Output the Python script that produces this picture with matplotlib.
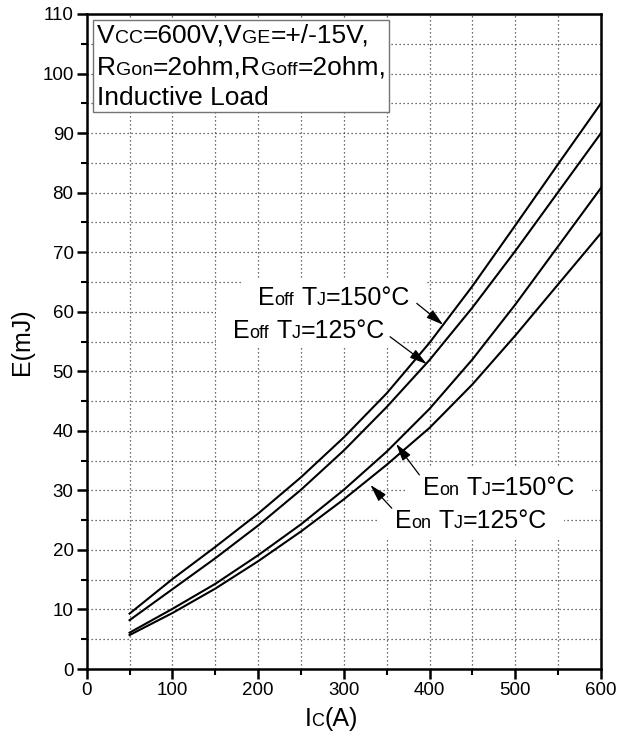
import matplotlib
matplotlib.use('Agg')
import matplotlib.pyplot as plt
from matplotlib.patches import Rectangle

# collector current (A) and switching energies (mJ)
ic = [50, 100, 150, 200, 250, 300, 350, 400, 450, 500, 550, 600]
eoff_150 = [9.3, 15.1, 20.5, 26.1, 32.2, 38.9, 46.3, 54.8, 64.3, 74.5, 84.8, 95.0]
eoff_125 = [8.2, 13.4, 18.6, 24.1, 30.1, 36.7, 44.0, 51.9, 60.7, 70.2, 80.1, 90.0]
eon_150 = [6.1, 10.1, 14.3, 19.1, 24.3, 30.1, 36.5, 43.7, 52.0, 61.2, 71.0, 80.8]
eon_125 = [5.7, 9.4, 13.5, 18.1, 23.1, 28.5, 34.3, 40.5, 47.8, 56.0, 64.6, 73.2]

W, H, DPI = 619, 740, 100
BIG, SMALL = 18, 13

plt.rcParams['font.family'] = ['Liberation Sans', 'DejaVu Sans']

fig = plt.figure(figsize=(W / DPI, H / DPI), dpi=DPI)
ax = fig.add_axes([86.7 / W, 71 / H, 514.3 / W, 655 / H])
renderer = fig.canvas.get_renderer()

for e in [eoff_150, eoff_125, eon_150, eon_125]:
    ax.plot(ic, e, color='black', lw=1.5, zorder=3)

ax.set_xlim(0, 600)
ax.set_ylim(0, 110)
ax.set_xticks(range(0, 601, 100))
ax.set_xticks(range(0, 601, 50), minor=True)
ax.set_yticks(range(0, 111, 10))
ax.set_yticks(range(0, 111, 5), minor=True)
ax.tick_params(which='major', direction='out', length=7.5, width=1.8, labelsize=13.5, pad=2)
ax.tick_params(which='minor', direction='out', length=4, width=1.5)
ax.grid(which='both', color='0.25', lw=0.9, ls=(0, (1, 2.2)))
ax.set_axisbelow(True)
for s in ax.spines.values():
    s.set_linewidth(1.8)

ax.set_ylabel('E(mJ)', fontsize=BIG, va='center')
ax.yaxis.set_label_coords(-0.126, 0.5)


def rich_text(x, y, parts, center=False):
    # x, y in pixels (y measured from top); parts are (text, size) or (None, gap in pt)
    items = []
    cx = x
    for s, size in parts:
        if s is None:
            cx += size * DPI / 72
            continue
        t = fig.text(cx / W, (H - y) / H, s, fontsize=size, va='baseline', ha='left', zorder=6)
        items.append(t)
        cx += t.get_window_extent(renderer).width
    if center:
        shift = (cx - x) / 2
        for t in items:
            px, py = t.get_position()
            t.set_position((px - shift / W, py))
    return cx


def label_bg(x0, x1, y):
    # white patch behind a curve label, hiding the grid
    inv = ax.transData.inverted()
    (dx0, dy0) = inv.transform((x0 - 17, H - (y + 10)))
    (dx1, dy1) = inv.transform((x1 + 17, H - (y - 27)))
    ax.add_patch(Rectangle((dx0, dy0), dx1 - dx0, dy1 - dy0, facecolor='white',
                           edgecolor='none', zorder=1))


# x axis label
rich_text(331, 726, [('I', BIG), ('C', SMALL), ('(A)', BIG)], center=True)

# test conditions box
ax.add_patch(Rectangle((0.0117, 0.8504), 0.5761, 0.1404, transform=ax.transAxes,
                       facecolor='white', edgecolor='0.45', lw=1, zorder=5))
BOX, BOX_S = 19, 14
rich_text(97, 43, [('V', BOX), ('CC', BOX_S), ('=600V,V', BOX), ('GE', BOX_S), ('=+/-15V,', BOX)])
rich_text(97, 75, [('R', BOX), ('Gon', BOX_S), ('=2ohm,R', BOX), ('Goff', BOX_S), ('=2ohm,', BOX)])
rich_text(97, 105, [('Inductive Load', BOX)])

# curve labels with arrows
gap = 0.278 * BIG
labels = [
    ('off', '150', 258, 305, (385.1, 61.4), (415.9, 57.8)),
    ('off', '125', 233, 338, (353.9, 55.8), (396.7, 51.2)),
    ('on', '150', 423, 495, (388.1, 32.6), (361.0, 37.8)),
    ('on', '125', 395, 528, (355.9, 27.0), (331.0, 30.9)),
]
for sub, temp, x, y, tail, tip in labels:
    end = rich_text(x, y, [('E', BIG), (sub, SMALL), (None, gap), ('T', BIG), ('J', SMALL),
                           ('=' + temp + '\u00b0C', BIG)])
    label_bg(x, end, y)
    ax.annotate('', xy=tip, xytext=tail, zorder=4,
                arrowprops=dict(arrowstyle='-|>,head_length=0.7,head_width=0.2',
                                color='black', lw=0.9, mutation_scale=15,
                                shrinkA=0, shrinkB=0))

fig.savefig('out.png', dpi=DPI)
